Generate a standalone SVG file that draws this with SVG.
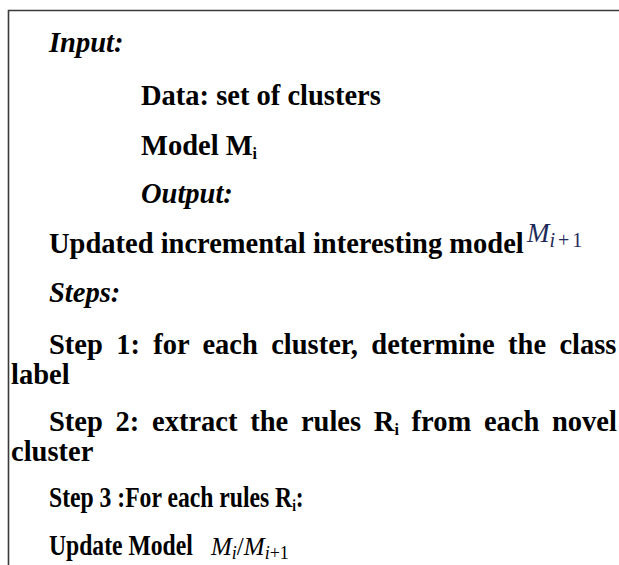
<svg xmlns="http://www.w3.org/2000/svg" width="619" height="565" viewBox="0 0 619 565">
<style>
.t{font-family:"Liberation Serif","Times New Roman",serif;font-size:28.5px;font-weight:bold;fill:#000}
.i{font-style:italic}
.sub{font-size:16px}
.m{font-family:"Liberation Serif","Times New Roman",serif;font-style:italic;font-weight:normal}
</style>
<rect width="619" height="565" fill="#fff"/>
<g id="frame">
<path d="M8.5 566 V10.5 H620" fill="none" stroke="#3a3a3a" stroke-width="1.6"/>
</g>
<g id="text">
<text class="t i" x="49" y="52">Input:</text>
<text class="t" x="141" y="105">Data: set of clusters</text>
<text class="t" x="141" y="155">Model M<tspan class="sub" dy="4">i</tspan></text>
<text class="t i" x="141" y="203">Output:</text>
<text class="t" x="49" y="253">Updated incremental interesting model</text>
<text class="m" x="527" y="242" font-size="27" fill="#1e2a5a">M<tspan font-size="20" dy="5">i</tspan><tspan font-size="20" font-style="normal" dx="3">+</tspan><tspan font-size="20" font-style="normal" dx="3">1</tspan></text>
<text class="t i" x="49" y="302">Steps:</text>
<text class="t" x="49" y="354" word-spacing="6.2">Step 1: for each cluster, determine the class</text>
<text class="t" x="11" y="384">label</text>
<text class="t" x="49" y="431" word-spacing="5.6">Step 2: extract the rules R<tspan class="sub" dy="4">i</tspan><tspan dy="-4"> from each novel</tspan></text>
<text class="t" x="11" y="461">cluster</text>
<text class="t" transform="translate(49 507) scale(0.83 1)" x="0" y="0">Step 3 :For each rules R<tspan class="sub" dy="4">i</tspan><tspan dy="-4">:</tspan></text>
<text class="t" transform="translate(49 555) scale(0.83 1)" x="0" y="0">Update Model</text>
<text class="m" x="211" y="555" font-size="25" fill="#000">M<tspan font-size="18" dy="4">i</tspan><tspan font-style="normal" dy="-4">/</tspan>M<tspan font-size="18" dy="4">i</tspan><tspan font-size="18" font-style="normal">+1</tspan></text>
</g>
</svg>
